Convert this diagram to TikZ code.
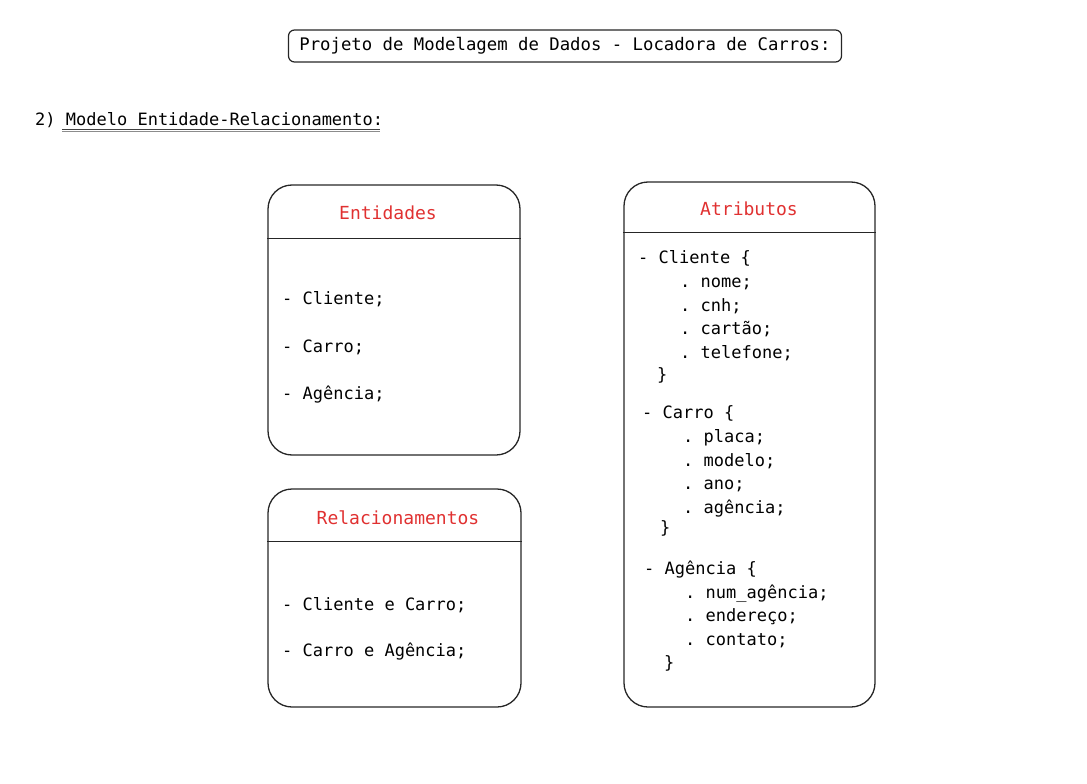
\documentclass[tikz,border=0pt]{standalone}
\usepackage{fontspec}
\setmonofont{DejaVu Sans Mono}
\definecolor{titlered}{HTML}{E03131}

\tikzset{
  card/.style={draw=black!85, line width=1.3pt, rounded corners=24pt, inner sep=0pt},
  divider/.style={draw=black!85, line width=1.3pt},
  entry/.style={font=\ttfamily\fontsize{17}{19}\selectfont, anchor=west, inner sep=0pt,
    text height=12pt, text depth=3pt, yshift=-2pt},
  heading/.style={entry, anchor=center, font=\ttfamily\fontsize{18}{20}\selectfont, text=titlered},
}

\begin{document}
\begin{tikzpicture}[x=1pt,y=-1pt]
    \useasboundingbox (0,0) rectangle (1087,784);

    % title of the project
    \node[draw=black!85, line width=1.2pt, rounded corners=6pt, minimum width=553pt, minimum height=32pt,
      inner sep=0pt, font=\ttfamily\fontsize{17.3}{19}\selectfont] (title) at (565,46) {Projeto de Modelagem de Dados - Locadora de Carros:};

    \node[entry] (section) at (35,119) {2) Modelo Entidade-Relacionamento:};
    \draw[black!75, line width=1.1pt] (62,129.6) -- (380,129.6);
    \draw[black!45, line width=0.9pt] (62,131.5) -- (380,131.5);

    % the three cards
    \node[card, minimum width=252pt, minimum height=270pt] (ent) at (394,320) {};
    \node[card, minimum width=253pt, minimum height=218pt] (rel) at (394.5,598) {};
    \node[card, minimum width=251pt, minimum height=525pt] (attr) at (749.5,444.5) {};

    \draw[divider] ([yshift=-54pt]ent.north west) -- ([yshift=-54pt]ent.north east);
    \draw[divider] ([yshift=-53pt]rel.north west) -- ([yshift=-53pt]rel.north east);
    \draw[divider] ([yshift=-51pt]attr.north west) -- ([yshift=-51pt]attr.north east);

    \node[heading] (enthead) at (388,213) {Entidades};
    \node[heading] (relhead) at (398,518) {Relacionamentos};
    \node[heading] (attrhead) at (749,209) {Atributos};

    % entities and relationships
    \foreach \i/\y/\t in {1/298/{- Cliente;}, 2/346/{- Carro;}, 3/393/{- Agência;}} {
      \node[entry] (ent\i) at (282,\y) {\t};
    }
    \foreach \i/\y/\t in {1/604/{- Cliente e Carro;}, 2/650/{- Carro e Agência;}} {
      \node[entry] (rel\i) at (282,\y) {\t};
    }

    % attributes of each entity
    \foreach \i/\x/\y/\t in {
        1/638/257/{- Cliente \{}, 2/680/281/{. nome;}, 3/680/305/{. cnh;},
        4/680/328/{. cartão;}, 5/680/352/{. telefone;}, 6/657/374/{\}},
        7/642/412/{- Carro \{}, 8/683/436/{. placa;}, 9/683/460/{. modelo;},
        10/683/483/{. ano;}, 11/683/507/{. agência;}, 12/660/527/{\}},
        13/644/568/{- Agência \{}, 14/685/592/{. num\_agência;}, 15/685/615/{. endereço;},
        16/685/639/{. contato;}, 17/664/662/{\}}} {
      \node[entry] (attr\i) at (\x,\y) {\t};
    }
\end{tikzpicture}
\end{document}
